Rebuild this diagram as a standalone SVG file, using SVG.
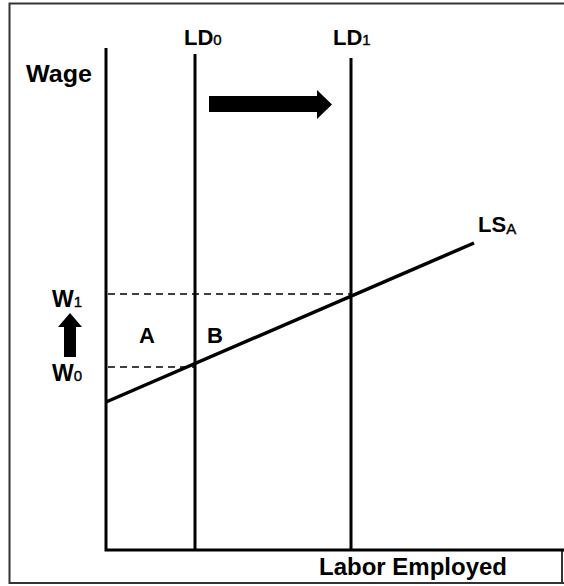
<svg xmlns="http://www.w3.org/2000/svg" width="564" height="586" viewBox="0 0 564 586">
<style>
.t{font-family:"Liberation Sans",Arial,sans-serif;font-weight:bold;fill:#000}
.s{font-size:15px;font-weight:normal;stroke:#000;stroke-width:0.4}
.ax{stroke:#000;stroke-width:3;fill:none}
.dash{stroke:#000;stroke-width:1.6;stroke-dasharray:7 5;fill:none}
</style>
<rect width="564" height="586" fill="#fff"/>
<g id="frame" fill="none" stroke="#333" stroke-width="2">
<path d="M564 3.5H9.5V583H564"/>
<path d="M562 550V583"/>
</g>
<g id="axes">
<path class="ax" d="M106 48V550H564"/>
<text class="t" x="26" y="82" font-size="23" textLength="66" lengthAdjust="spacingAndGlyphs">Wage</text>
<text class="t" x="319" y="575" font-size="23" textLength="188" lengthAdjust="spacingAndGlyphs">Labor Employed</text>
</g>
<g id="LD0">
<path class="ax" d="M195 54V550"/>
<text class="t" x="184" y="45" font-size="22">LD<tspan class="s">0</tspan></text>
</g>
<g id="LD1">
<path class="ax" d="M351 58V550"/>
<text class="t" x="333" y="45" font-size="22">LD<tspan class="s">1</tspan></text>
</g>
<g id="LSA">
<path stroke="#000" stroke-width="3.5" fill="none" d="M106 402L474 243"/>
<text class="t" x="478" y="232" font-size="22">LS<tspan class="s" dy="2">A</tspan></text>
</g>
<g id="connectors">
<path class="dash" d="M108 294H351"/>
<path class="dash" d="M108 367H195"/>
<path d="M209 96H317V90L332 104.5L317 119V112H209Z" fill="#000"/>
<path d="M64 357V327H58L70 313L82 327H76V357Z" fill="#000"/>
</g>
<g id="labels">
<text class="t" x="52" y="307" font-size="23">W<tspan class="s">1</tspan></text>
<text class="t" x="52" y="381" font-size="23">W<tspan class="s">0</tspan></text>
<text class="t" x="139" y="343" font-size="22">A</text>
<text class="t" x="207" y="343" font-size="22">B</text>
</g>
</svg>
